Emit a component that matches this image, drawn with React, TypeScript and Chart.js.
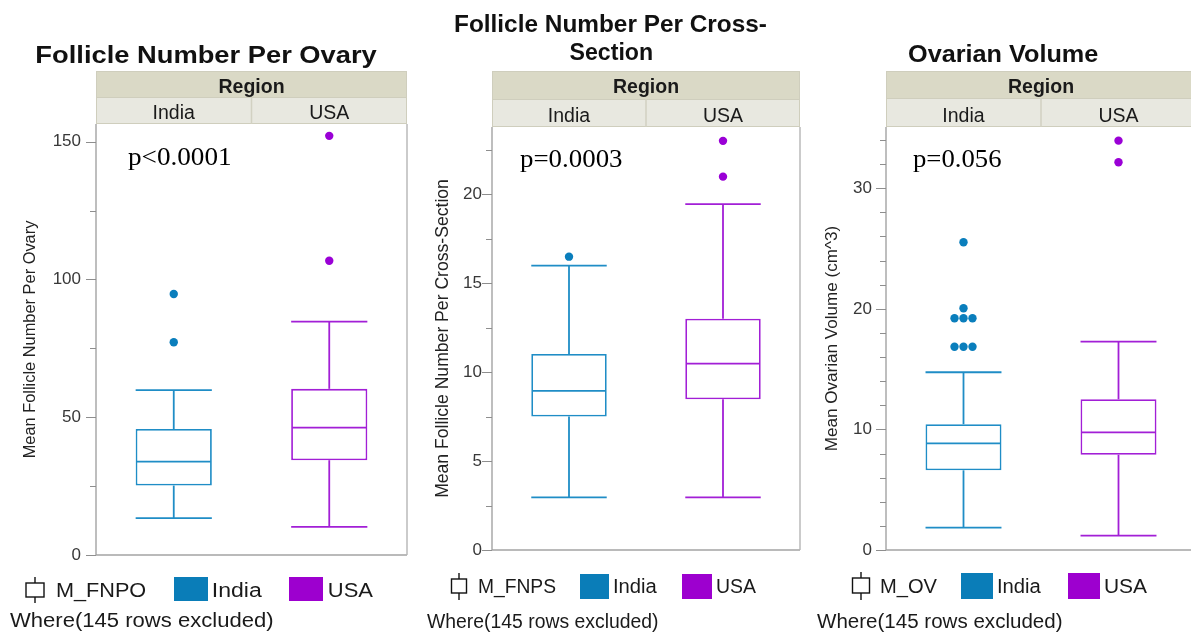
import React, { useEffect, useRef } from 'react';
import { Chart, registerables } from 'chart.js';
Chart.register(...registerables);

const SANS = "'Liberation Sans', Arial, Helvetica, sans-serif";
const SERIF = "'Liberation Serif', 'Times New Roman', serif";

// ---------- data ----------
const regions = ['India', 'USA'];
const boxColors = ['#1f8dc6', '#a21fd6'];
const dotColors = ['#0a7ebc', '#9a00d6'];
const legendColors = ['#0a7db8', '#9d00cf'];

// Follicle Number Per Ovary (M_FNPO)
const fnpoMin = [13.4, 10.2];
const fnpoQ1 = [25.2, 34.4];
const fnpoMedian = [33.9, 46.2];
const fnpoQ3 = [45.7, 60.3];
const fnpoMax = [59.8, 84.7];
const fnpoOutIndia = [77.2, 94.7];
const fnpoOutIndiaJitter = [0, 0];
const fnpoOutUSA = [106.8, 152.1];
const fnpoOutUSAJitter = [0, 0];
const fnpoMajorTicks = [0, 50, 100, 150];
const fnpoMinorTicks = [25, 75, 125];

// Follicle Number Per Cross-Section (M_FNPS)
const fnpsMin = [2.96, 2.96];
const fnpsQ1 = [7.5, 8.47];
const fnpsMedian = [8.94, 10.48];
const fnpsQ3 = [11.02, 13.0];
const fnpsMax = [15.99, 19.44];
const fnpsOutIndia = [16.49];
const fnpsOutIndiaJitter = [0];
const fnpsOutUSA = [20.99, 23.0];
const fnpsOutUSAJitter = [0, 0];
const fnpsMajorTicks = [0, 5, 10, 15, 20];
const fnpsMinorTicks = [2.5, 7.5, 12.5, 17.5, 22.5];

// Ovarian Volume (M_OV)
const ovMin = [1.85, 1.19];
const ovQ1 = [6.61, 7.9];
const ovMedian = [8.85, 9.76];
const ovQ3 = [10.43, 12.5];
const ovMax = [14.74, 17.28];
const ovOutIndia = [16.86, 16.86, 16.86, 19.22, 19.22, 19.22, 20.05, 25.52];
const ovOutIndiaJitter = [-0.058, 0, 0.058, -0.058, 0, 0.058, 0, 0];
const ovOutUSA = [32.16, 33.95];
const ovOutUSAJitter = [0, 0];
const ovMajorTicks = [0, 10, 20, 30];
const ovMinorTicks = [2, 4, 6, 8, 12, 14, 16, 18, 22, 24, 26, 28, 32, 34];

// ---------- layout ----------
const CW = 1210;
const CH = 635;

type Spec = {
  key: string;
  titles: { text: string; cx: number; base: number; w: number }[];
  yTitle: string;
  yTitleSize: number;
  yTitleCx: number;
  tickPad: number;
  pText: string;
  pLeft: number;
  pBase: number;
  pW: number;
  legendName: string;
  min: number[]; q1: number[]; med: number[]; q3: number[]; max: number[];
  out: number[][]; jitter: number[][];
  yMax: number;
  majors: number[]; minors: number[];
  left: number; right: number; top: number; bottom: number;
  hTop: number; hMid: number; regionBase: number; catBase: number;
  lg: {
    iconCx: number; iconW: number; rTop: number; rBot: number; sTop: number; sBot: number;
    nameLeft: number; nameW: number; base: number;
    sq: number[][]; labLeft: number[]; labW: number[];
    whereLeft: number; whereW: number; whereBase: number;
  };
};

const specs: Spec[] = [
  {
    key: 'fnpo',
    titles: [{ text: 'Follicle Number Per Ovary', cx: 207, base: 63, w: 341 }],
    yTitle: 'Mean Follicle Number Per Ovary', yTitleSize: 16.4, yTitleCx: 30, tickPad: 15,
    pText: 'p<0.0001', pLeft: 128, pBase: 165, pW: 102,
    legendName: 'M_FNPO',
    min: fnpoMin, q1: fnpoQ1, med: fnpoMedian, q3: fnpoQ3, max: fnpoMax,
    out: [fnpoOutIndia, fnpoOutUSA], jitter: [fnpoOutIndiaJitter, fnpoOutUSAJitter],
    yMax: 156.4, majors: fnpoMajorTicks, minors: fnpoMinorTicks,
    left: 96, right: 407, top: 124, bottom: 555,
    hTop: 71, hMid: 97, regionBase: 93, catBase: 119,
    lg: {
      iconCx: 35, iconW: 18, rTop: 583, rBot: 597, sTop: 577, sBot: 603,
      nameLeft: 57, nameW: 89, base: 597,
      sq: [[174, 577, 34, 24], [289, 577, 34, 24]], labLeft: [213, 329], labW: [49, 44],
      whereLeft: 10, whereW: 263, whereBase: 627,
    },
  },
  {
    key: 'fnps',
    titles: [
      { text: 'Follicle Number Per Cross-', cx: 611, base: 32, w: 312 },
      { text: 'Section', cx: 611, base: 60, w: 83 },
    ],
    yTitle: 'Mean Follicle Number Per Cross-Section', yTitleSize: 17.6, yTitleCx: 443, tickPad: 10,
    pText: 'p=0.0003', pLeft: 520, pBase: 167, pW: 102,
    legendName: 'M_FNPS',
    min: fnpsMin, q1: fnpsQ1, med: fnpsMedian, q3: fnpsQ3, max: fnpsMax,
    out: [fnpsOutIndia, fnpsOutUSA], jitter: [fnpsOutIndiaJitter, fnpsOutUSAJitter],
    yMax: 23.78, majors: fnpsMajorTicks, minors: fnpsMinorTicks,
    left: 492, right: 800, top: 127, bottom: 550,
    hTop: 71, hMid: 99, regionBase: 93, catBase: 121.5,
    lg: {
      iconCx: 459, iconW: 15, rTop: 579, rBot: 593, sTop: 573, sBot: 600,
      nameLeft: 479, nameW: 77, base: 593,
      sq: [[580, 574, 29, 25], [682, 574, 30, 25]], labLeft: [614, 717], labW: [43, 39],
      whereLeft: 427, whereW: 231, whereBase: 628,
    },
  },
  {
    key: 'ov',
    titles: [{ text: 'Ovarian Volume', cx: 1003, base: 62, w: 190 }],
    yTitle: 'Mean Ovarian Volume (cm^3)', yTitleSize: 17.1, yTitleCx: 832, tickPad: 14,
    pText: 'p=0.056', pLeft: 913, pBase: 167, pW: 88,
    legendName: 'M_OV',
    min: ovMin, q1: ovQ1, med: ovMedian, q3: ovQ3, max: ovMax,
    out: [ovOutIndia, ovOutUSA], jitter: [ovOutIndiaJitter, ovOutUSAJitter],
    yMax: 35.08, majors: ovMajorTicks, minors: ovMinorTicks,
    left: 886, right: 1196, top: 127, bottom: 550,
    hTop: 71, hMid: 98, regionBase: 93.3, catBase: 121.7,
    lg: {
      iconCx: 861, iconW: 17, rTop: 578, rBot: 593, sTop: 572, sBot: 600,
      nameLeft: 881, nameW: 56, base: 593,
      sq: [[961, 573, 32, 26], [1068, 573, 32, 26]], labLeft: [998, 1105], labW: [43, 42],
      whereLeft: 817, whereW: 245, whereBase: 628,
    },
  },
];

// ---------- drawing helpers ----------
function fitText(ctx: CanvasRenderingContext2D, text: string, left: number, base: number, width: number, font: string, color: string) {
  ctx.save();
  ctx.font = font;
  ctx.fillStyle = color;
  ctx.textAlign = 'left';
  ctx.textBaseline = 'alphabetic';
  const m = ctx.measureText(text);
  const ink = (m.actualBoundingBoxRight || m.width) + (m.actualBoundingBoxLeft || 0);
  const s = width / ink;
  ctx.translate(left, base);
  ctx.scale(s, 1);
  ctx.fillText(text, m.actualBoundingBoxLeft || 0, 0);
  ctx.restore();
}

function seg(ctx: CanvasRenderingContext2D, x1: number, y1: number, x2: number, y2: number) {
  ctx.beginPath();
  ctx.moveTo(x1, y1);
  ctx.lineTo(x2, y2);
  ctx.stroke();
}

function makePlugin(p: Spec) {
  return {
    id: 'boxpanel_' + p.key,
    afterDatasetDraw(chart: any, args: any) {
      if (args.index !== 0) return;
      const ctx: CanvasRenderingContext2D = chart.ctx;
      const y = chart.scales.y;
      const meta = chart.getDatasetMeta(0);
      ctx.save();
      ctx.lineWidth = 1.8;
      ctx.lineCap = 'butt';
      p.med.forEach((m, i) => {
        const bar = meta.data[i];
        const cx = bar.x;
        const hw = bar.width / 2;
        ctx.strokeStyle = boxColors[i];
        seg(ctx, cx, y.getPixelForValue(p.q3[i]), cx, y.getPixelForValue(p.max[i]));
        seg(ctx, cx - hw, y.getPixelForValue(p.max[i]), cx + hw, y.getPixelForValue(p.max[i]));
        seg(ctx, cx, y.getPixelForValue(p.q1[i]), cx, y.getPixelForValue(p.min[i]));
        seg(ctx, cx - hw, y.getPixelForValue(p.min[i]), cx + hw, y.getPixelForValue(p.min[i]));
        seg(ctx, cx - hw + 1, y.getPixelForValue(m), cx + hw - 1, y.getPixelForValue(m));
      });
      ctx.restore();
    },
    afterDraw(chart: any) {
      const ctx: CanvasRenderingContext2D = chart.ctx;
      const a = chart.chartArea;
      const y = chart.scales.y;
      const x = chart.scales.x;
      ctx.save();
      // frame
      ctx.lineWidth = 1.4;
      ctx.strokeStyle = '#a3a3a3';
      seg(ctx, a.left, a.top, a.left, a.bottom);
      seg(ctx, a.left, a.bottom, a.right, a.bottom);
      ctx.strokeStyle = '#b5b5b5';
      seg(ctx, a.right, a.top, a.right, a.bottom);
      // tick marks
      ctx.lineWidth = 1;
      ctx.strokeStyle = '#8e8e8e';
      p.majors.forEach((v) => { const py = Math.round(y.getPixelForValue(v)) + 0.5; seg(ctx, a.left - 10, py, a.left, py); });
      p.minors.forEach((v) => { const py = Math.round(y.getPixelForValue(v)) + 0.5; seg(ctx, a.left - 6, py, a.left, py); });
      // header bands
      const w = a.right - a.left;
      ctx.fillStyle = '#dad9c6';
      ctx.fillRect(a.left, p.hTop, w, p.hMid - p.hTop);
      ctx.fillStyle = '#e8e8e0';
      ctx.fillRect(a.left, p.hMid, w, a.top - p.hMid);
      ctx.strokeStyle = '#cfcebd';
      ctx.lineWidth = 1;
      ctx.strokeRect(a.left + 0.5, p.hTop + 0.5, w - 1, a.top - p.hTop - 1);
      seg(ctx, a.left, p.hMid + 0.5, a.right, p.hMid + 0.5);
      const mid = (a.left + a.right) / 2;
      ctx.strokeStyle = '#d2d1c2';
      ctx.lineWidth = 1.5;
      seg(ctx, mid, p.hMid, mid, a.top);
      ctx.fillStyle = '#1a1a1a';
      ctx.textAlign = 'center';
      ctx.textBaseline = 'alphabetic';
      ctx.font = `bold 19.5px ${SANS}`;
      ctx.fillText('Region', mid, p.regionBase);
      ctx.font = `19.5px ${SANS}`;
      regions.forEach((r, i) => ctx.fillText(r, x.getPixelForValue(i), p.catBase));
      // titles
      p.titles.forEach((t) => fitText(ctx, t.text, t.cx - t.w / 2, t.base, t.w, `bold 24px ${SANS}`, '#111'));
      // p value
      fitText(ctx, p.pText, p.pLeft, p.pBase, p.pW, `25px ${SERIF}`, '#000');
      // legend
      const L = p.lg;
      ctx.strokeStyle = '#111';
      ctx.lineWidth = 1.4;
      ctx.strokeRect(L.iconCx - L.iconW / 2, L.rTop, L.iconW, L.rBot - L.rTop);
      seg(ctx, L.iconCx, L.sTop, L.iconCx, L.rTop);
      seg(ctx, L.iconCx, L.rBot, L.iconCx, L.sBot);
      fitText(ctx, p.legendName, L.nameLeft, L.base, L.nameW, `19.5px ${SANS}`, '#1a1a1a');
      regions.forEach((r, i) => {
        const s = L.sq[i];
        ctx.fillStyle = legendColors[i];
        ctx.fillRect(s[0], s[1], s[2], s[3]);
        fitText(ctx, r, L.labLeft[i], L.base, L.labW[i], `19.5px ${SANS}`, '#1a1a1a');
      });
      fitText(ctx, 'Where(145 rows excluded)', L.whereLeft, L.whereBase, L.whereW, `19.5px ${SANS}`, '#1a1a1a');
      ctx.restore();
    },
  };
}

function buildConfig(p: Spec): any {
  const padLeft = p.yTitleCx - 30;
  const lh = p.yTitleSize * 1.2;
  const points: { x: number; y: number }[] = [];
  const pColors: string[] = [];
  p.out.forEach((vals, r) => {
    vals.forEach((v, k) => {
      points.push({ x: r + p.jitter[r][k], y: v });
      pColors.push(dotColors[r]);
    });
  });
  return {
    type: 'bar',
    data: {
      labels: regions,
      datasets: [
        {
          type: 'bar',
          data: p.q1.map((q, i) => [q, p.q3[i]]),
          backgroundColor: '#ffffff',
          borderColor: boxColors,
          borderWidth: 1.8,
          borderSkipped: false,
          grouped: false,
          barPercentage: 0.49,
          categoryPercentage: 1,
        },
        {
          type: 'scatter',
          xAxisID: 'x2',
          data: points,
          backgroundColor: pColors,
          borderWidth: 0,
          pointRadius: 4.2,
        },
      ],
    },
    options: {
      responsive: false,
      animation: false,
      events: [],
      layout: { padding: { left: padLeft, right: CW - p.right, top: p.top, bottom: CH - p.bottom } },
      plugins: { legend: { display: false }, tooltip: { enabled: false }, title: { display: false } },
      scales: {
        x: { type: 'category', display: false, offset: true },
        x2: { type: 'linear', display: false, min: -0.5, max: 1.5, offset: false, grace: 0 },
        y: {
          type: 'linear',
          min: 0,
          max: p.yMax,
          afterBuildTicks: (s: any) => { s.ticks = p.majors.map((v) => ({ value: v })); },
          afterFit: (s: any) => { s.width = p.left - padLeft; },
          grid: { display: false, drawTicks: false },
          border: { display: false },
          ticks: { padding: p.tickPad, color: '#383838', font: { family: SANS, size: 17 } },
          title: {
            display: true,
            text: p.yTitle,
            color: '#222',
            font: { family: SANS, size: p.yTitleSize },
            padding: { top: 30 - lh / 2, bottom: 0 },
          },
        },
      },
    },
    plugins: [makePlugin(p)],
  };
}

function Panel({ spec }: { spec: Spec }) {
  const ref = useRef<HTMLCanvasElement>(null);
  useEffect(() => {
    const chart = new Chart(ref.current as HTMLCanvasElement, buildConfig(spec));
    return () => chart.destroy();
  }, [spec]);
  return (
    <canvas
      ref={ref}
      width={CW}
      height={CH}
      style={{ position: 'absolute', left: 0, top: 0, width: CW, height: CH }}
    />
  );
}

export default function App() {
  return (
    <div style={{ position: 'fixed', left: 0, top: 0, width: 1191, height: 635, overflow: 'hidden', background: '#ffffff' }}>
      {specs.map((s) => (
        <Panel key={s.key} spec={s} />
      ))}
    </div>
  );
}
